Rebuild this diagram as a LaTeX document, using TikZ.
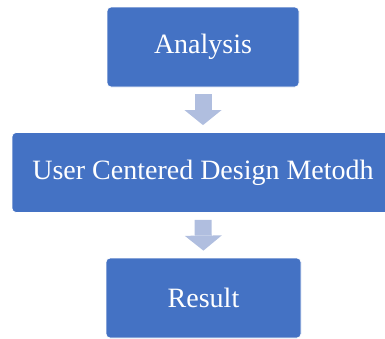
\documentclass[tikz,border=0pt]{standalone}
\usepackage{fontspec}
\setmainfont{Liberation Serif}
\usetikzlibrary{arrows.meta}
\definecolor{boxblue}{HTML}{4472C4}
\definecolor{arrowblue}{HTML}{B0BEDF}

\begin{document}
\begin{tikzpicture}[x=1pt, y=1pt,
  stage/.style={rectangle, rounded corners=4pt, fill=boxblue, draw=white,
    line width=0.8pt, text=white, font=\rmfamily\fontsize{28}{32}\selectfont,
    minimum height=80pt},
  flow/.style={arrowblue, line width=17pt, shorten <=7pt, shorten >=7pt,
    -{Triangle[width=37pt, length=15pt, line width=0pt]}}]
\useasboundingbox (0,0) rectangle (385,-338);

\node[stage, minimum width=192pt] (analysis) at (203,-47) {Analysis};
\node[stage, minimum width=382pt] (ucd) at (203,-172.5) {User Centered Design Metodh};
\node[stage, minimum width=195pt] (result) at (203.5,-298) {Result};

\draw[flow] (analysis.south) -- (ucd.north);
\draw[flow] (ucd.south) -- (result.north);
\end{tikzpicture}
\end{document}
